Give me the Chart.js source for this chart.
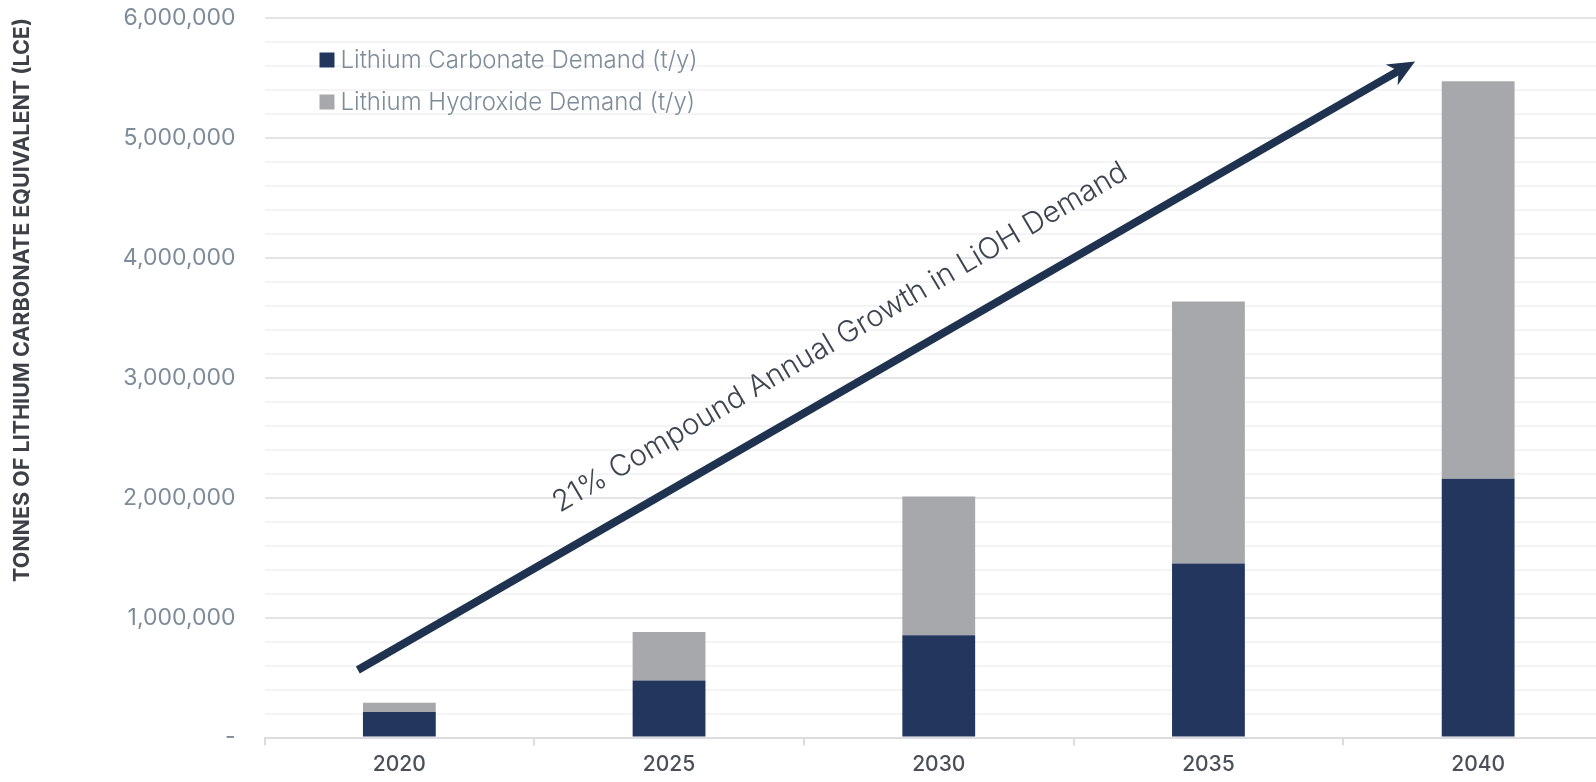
<!DOCTYPE html>
<html>
<head>
<meta charset="utf-8">
<script src="https://cdn.jsdelivr.net/npm/chart.js@4.4.1/dist/chart.umd.min.js"></script>
<style>
  html, body { margin: 0; padding: 0; background: #fff; overflow: hidden; }
  #wrap { width: 1620px; height: 782px; }
</style>
</head>
<body>
<div id="wrap"><canvas id="lceChart"></canvas></div>
<script>
// Demand in tonnes LCE per year
const years = ['2020', '2025', '2030', '2035', '2040'];
const carbonateDemand = [213000, 475000, 852000, 1452000, 2158000];
const hydroxideDemand = [77000, 404000, 1158000, 2183000, 3314000];

// y axis range
const yMax = 6000000;
const yStep = 200000;
const yLabelStep = 1000000;

// growth arrow, in axis units (category index, tonnes)
const arrowFrom = [-0.154, 563000];
const arrowTo = [3.766, 5638000];
const arrowLabel = '21% Compound Annual Growth in LiOH Demand';
const arrowLabelAt = [1.634, 3335000];

const navy = '#22365e';
const grey = '#a7a8ab';
const tickGrey = '#7d8c98';
const fontFamily = 'Inter, "Open Sans", sans-serif';

// legend drawn at the top left of the plot, stacked vertically
const stackedLegend = {
  id: 'stackedLegend',
  afterDraw(chart) {
    const ctx = chart.ctx;
    const area = chart.chartArea;
    ctx.save();
    ctx.font = '300 24px ' + fontFamily;
    ctx.textBaseline = 'middle';
    chart.data.datasets.forEach((ds, i) => {
      const y = 60 + i * 42;
      ctx.fillStyle = ds.backgroundColor;
      ctx.fillRect(area.left + 55, y - 7.5, 15, 15);
      ctx.fillStyle = tickGrey;
      ctx.fillText(ds.label, area.left + 76, y + 1);
    });
    ctx.restore();
  }
};

// arrow + rotated caption
const growthArrow = {
  id: 'growthArrow',
  afterDatasetsDraw(chart) {
    const ctx = chart.ctx;
    const xs = chart.scales.x, ys = chart.scales.y;
    const x1 = xs.getPixelForValue(arrowFrom[0]), y1 = ys.getPixelForValue(arrowFrom[1]);
    const x2 = xs.getPixelForValue(arrowTo[0]), y2 = ys.getPixelForValue(arrowTo[1]);
    const ang = Math.atan2(y2 - y1, x2 - x1);
    const headLen = 27, headHalf = 12, notch = 19;
    const cos = Math.cos(ang), sin = Math.sin(ang);

    ctx.save();
    ctx.strokeStyle = '#1f3350';
    ctx.fillStyle = '#1f3350';
    ctx.lineWidth = 8;
    ctx.beginPath();
    ctx.moveTo(x1, y1);
    ctx.lineTo(x2 - cos * notch, y2 - sin * notch);
    ctx.stroke();

    const bx = x2 - cos * headLen, by = y2 - sin * headLen;
    ctx.beginPath();
    ctx.moveTo(x2, y2);
    ctx.lineTo(bx - sin * headHalf, by + cos * headHalf);
    ctx.lineTo(x2 - cos * notch, y2 - sin * notch);
    ctx.lineTo(bx + sin * headHalf, by - cos * headHalf);
    ctx.closePath();
    ctx.fill();

    const tx = xs.getPixelForValue(arrowLabelAt[0]);
    const ty = ys.getPixelForValue(arrowLabelAt[1]);
    ctx.translate(tx, ty);
    ctx.rotate(-30.5 * Math.PI / 180);
    ctx.font = '300 29.5px ' + fontFamily;
    ctx.fillStyle = '#3e4450';
    ctx.textAlign = 'center';
    ctx.textBaseline = 'middle';
    ctx.fillText(arrowLabel, 0, 0);
    ctx.restore();
  }
};

const ctxBar = document.getElementById('lceChart').getContext('2d');
const lceChart = new Chart(ctxBar, {
  type: 'bar',
  data: {
    labels: years,
    datasets: [{
      label: 'Lithium Carbonate Demand (t/y)',
      data: carbonateDemand,
      backgroundColor: navy,
      borderWidth: 0
    }, {
      label: 'Lithium Hydroxide Demand (t/y)',
      data: hydroxideDemand,
      backgroundColor: grey,
      borderWidth: 0
    }]
  },
  options: {
    responsive: true,
    maintainAspectRatio: false,
    animation: false,
    categoryPercentage: 1,
    barPercentage: 0.27,
    layout: { padding: { top: 18, right: 7, bottom: 0, left: 0 } },
    plugins: {
      legend: { display: false },
      tooltip: { enabled: false }
    },
    scales: {
      x: {
        stacked: true,
        afterFit(scale) {
          scale.height = 44.5;
          scale.paddingLeft = 0;
          scale.paddingRight = 0;
        },
        grid: {
          offset: true,
          drawOnChartArea: false,
          drawTicks: true,
          tickLength: 8,
          color: '#dcdce0',
          lineWidth: 2
        },
        border: { display: true, color: '#dcdce0', width: 2 },
        ticks: {
          color: '#4b5058',
          padding: 7,
          font: { family: fontFamily, size: 21, weight: '500' }
        }
      },
      y: {
        stacked: true,
        min: 0,
        max: yMax,
        afterFit(scale) {
          scale.width = 264.5;
          scale.paddingTop = 0;
          scale.paddingBottom = 0;
        },
        border: { display: false },
        grid: {
          drawTicks: false,
          lineWidth: 2,
          color: c => (c.tick && c.tick.value % yLabelStep === 0) ? '#e3e3e8' : '#f4f4f6'
        },
        ticks: {
          stepSize: yStep,
          autoSkip: false,
          padding: 29,
          color: tickGrey,
          font: { family: fontFamily, size: 23 },
          callback: v => v === 0 ? '-' : (v % yLabelStep === 0 ? v.toLocaleString('en-US') : '')
        },
        title: {
          display: true,
          text: 'TONNES OF LITHIUM CARBONATE EQUIVALENT (LCE)',
          align: 'end',
          color: '#3d4046',
          padding: { top: 10, bottom: 0 },
          font: { family: fontFamily, size: 21.5, weight: '700' }
        }
      }
    }
  },
  plugins: [stackedLegend, growthArrow]
});
</script>
</body>
</html>
